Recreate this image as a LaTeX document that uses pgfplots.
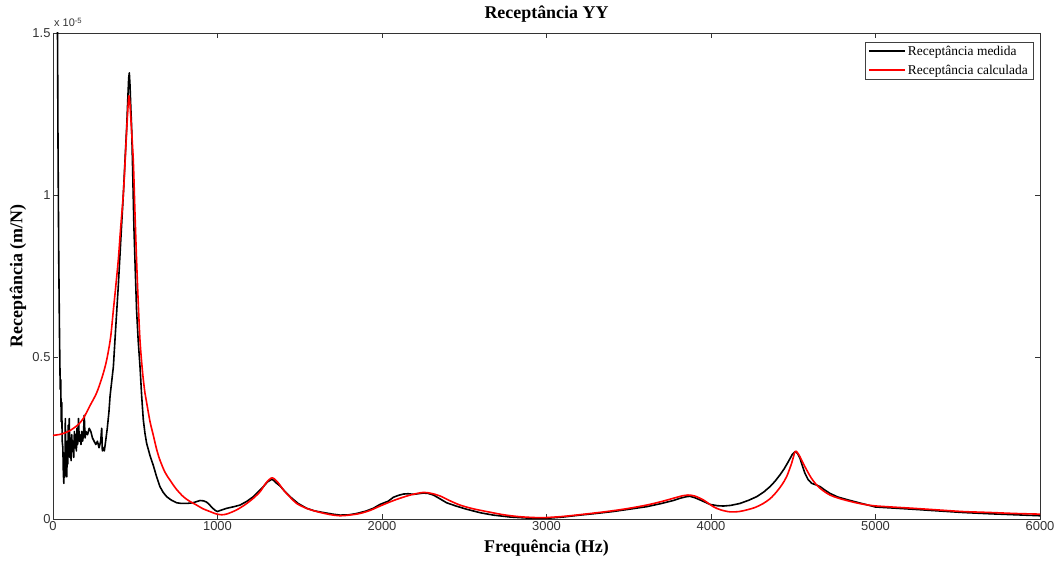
\documentclass[border=0pt]{standalone}
\usepackage{fontspec}
\setmainfont{Liberation Serif}
\setsansfont{Liberation Sans}
\usepackage{pgfplots}
\pgfplotsset{compat=1.18}

% Receptance values are given in units of 1e-5 m/N
\pgfplotstableread{
f v
25 1.80
30 1.20
35 0.80
40 0.55
44 0.40
47 0.43
50 0.30
53 0.36
56 0.24
60 0.22
63 0.14
66 0.11
69 0.20
72 0.13
75 0.31
78 0.16
81 0.19
84 0.13
87 0.24
90 0.17
93 0.29
96 0.20
99 0.31
102 0.19
106 0.25
110 0.18
114 0.26
118 0.21
122 0.24
126 0.19
130 0.27
134 0.22
138 0.26
142 0.21
146 0.28
150 0.23
155 0.31
160 0.24
165 0.26
170 0.23
175 0.27
180 0.24
185 0.26
190 0.32
195 0.25
200 0.27
210 0.26
220 0.28
230 0.27
240 0.25
250 0.24
260 0.23
270 0.24
280 0.22
290 0.24
296 0.28
300 0.21
305 0.22
312 0.21
320 0.24
330 0.28
340 0.33
347 0.38
367 0.47
380 0.58
397 0.72
412 0.86
428 1.006
440 1.13
448 1.21
455 1.30
460 1.36
464 1.377
468 1.34
473 1.27
478 1.21
485 1.06
492 0.90
500 0.77
508 0.645
518 0.55
529 0.47
539 0.38
549 0.306
559 0.265
569 0.234
590 0.195
610 0.165
630 0.13
650 0.10
670 0.082
691 0.069
720 0.058
752 0.050
780 0.048
813 0.048
850 0.050
894 0.057
915 0.056
934 0.052
950 0.045
965 0.036
985 0.027
999 0.023
1020 0.027
1056 0.033
1100 0.038
1137 0.043
1180 0.055
1218 0.069
1250 0.085
1279 0.100
1305 0.115
1329 0.122
1340 0.120
1360 0.110
1380 0.102
1410 0.085
1441 0.069
1490 0.048
1542 0.033
1590 0.025
1643 0.020
1700 0.015
1745 0.012
1800 0.013
1846 0.017
1900 0.024
1947 0.033
1988 0.045
2038 0.055
2069 0.067
2100 0.073
2130 0.077
2160 0.078
2190 0.076
2220 0.078
2251 0.080
2280 0.079
2312 0.074
2350 0.063
2393 0.050
2450 0.040
2515 0.030
2600 0.019
2677 0.012
2780 0.006
2880 0.003
3001 0.002
3100 0.006
3204 0.012
3300 0.017
3404 0.023
3500 0.030
3609 0.038
3700 0.048
3771 0.057
3812 0.064
3852 0.069
3872 0.070
3900 0.066
3933 0.059
3994 0.045
4040 0.041
4075 0.040
4120 0.042
4176 0.048
4230 0.058
4278 0.069
4320 0.083
4359 0.100
4390 0.117
4419 0.136
4445 0.155
4470 0.177
4495 0.200
4511 0.208
4525 0.203
4541 0.187
4555 0.165
4571 0.141
4590 0.122
4612 0.110
4640 0.105
4663 0.100
4690 0.090
4723 0.079
4770 0.068
4825 0.060
4900 0.050
5000 0.037
5100 0.034
5230 0.030
5380 0.025
5532 0.020
5700 0.016
5850 0.013
6000 0.010
}\medida

\pgfplotstableread{
f v
0 0.258
50 0.262
100 0.272
150 0.290
184 0.310
225 0.350
265 0.389
300 0.440
326 0.490
350 0.560
367 0.645
380 0.710
397 0.800
410 0.890
428 1.006
440 1.120
450 1.220
457 1.280
462 1.306
468 1.280
475 1.220
488 1.108
498 0.950
508 0.800
518 0.670
529 0.550
545 0.450
559 0.389
569 0.360
590 0.300
610 0.258
630 0.215
650 0.182
680 0.145
711 0.120
750 0.092
792 0.069
830 0.055
873 0.043
910 0.032
954 0.023
990 0.016
1025 0.013
1060 0.016
1116 0.028
1170 0.045
1218 0.064
1260 0.085
1290 0.108
1315 0.122
1332 0.127
1350 0.122
1375 0.108
1400 0.090
1440 0.068
1481 0.048
1540 0.033
1603 0.023
1680 0.014
1745 0.010
1800 0.012
1866 0.017
1930 0.027
1988 0.040
2050 0.053
2109 0.064
2180 0.075
2251 0.082
2300 0.079
2353 0.071
2410 0.057
2474 0.043
2550 0.032
2636 0.023
2740 0.013
2839 0.007
2960 0.004
3050 0.006
3123 0.009
3250 0.016
3366 0.023
3490 0.032
3609 0.043
3700 0.054
3771 0.064
3830 0.072
3860 0.074
3900 0.071
3953 0.059
4014 0.038
4060 0.028
4116 0.022
4170 0.023
4217 0.028
4270 0.036
4318 0.048
4360 0.063
4399 0.084
4430 0.105
4460 0.131
4490 0.172
4511 0.208
4525 0.205
4541 0.192
4560 0.172
4582 0.151
4610 0.126
4642 0.105
4680 0.088
4723 0.074
4770 0.065
4825 0.057
4900 0.048
4987 0.041
5100 0.037
5230 0.033
5380 0.028
5532 0.023
5700 0.020
5850 0.017
6000 0.015
}\calculada

\begin{document}
\begin{tikzpicture}[x=1bp,y=1bp]
\path[use as bounding box] (-53,-43) rectangle (1003,519);
\begin{axis}[
  at={(0,0)}, anchor=south west,
  scale only axis, width=987bp, height=486bp,
  xmin=0, xmax=6000, ymin=0, ymax=1.5,
  xtick={0,1000,...,6000},
  ytick={0,0.5,1,1.5},
  yticklabels={0,0.5,1,1.5},
  scaled x ticks=false,
  /pgf/number format/1000 sep={},
  /pgf/number format/assume math mode=true,
  tick pos=both, tick align=inside,
  major tick length=5bp,
  axis line style={black!80, line width=0.7bp},
  every tick/.style={black!80, line width=0.7bp},
  tick label style={font=\sffamily\fontsize{13}{13}\selectfont, text=black!80},
  xticklabel style={yshift=1bp},
  yticklabel style={xshift=1bp},
  every axis title shift=0pt,
  title={Receptância YY},
  title style={font=\rmfamily\bfseries\fontsize{18}{18}\selectfont, anchor=center, at={(axis description cs:0.5,1.0391)}},
  xlabel={Frequência (Hz)},
  xlabel style={font=\rmfamily\bfseries\fontsize{18}{18}\selectfont, anchor=center, at={(axis description cs:0.5,-0.0597)}},
  ylabel={Receptância (m/N)},
  ylabel style={font=\rmfamily\bfseries\fontsize{18}{18}\selectfont, anchor=center, at={(axis description cs:-0.0355,0.5)}},
  legend style={at={(axis description cs:0.993,0.982)}, anchor=north east,
    draw=black!75, line width=0.6bp, fill=white,
    font=\rmfamily\fontsize{13.5}{15}\selectfont,
    inner xsep=3bp, inner ysep=2bp, row sep=4bp},
  legend cell align=left,
  legend image code/.code={\draw[#1, line width=2bp] (0bp,0.5bp) -- (36bp,0.5bp);},
]
\addplot[black, line width=1.6bp, line join=round] table[x=f, y=v] {\medida};
\addlegendentry{Receptância medida}
\addplot[red, line width=1.6bp, line join=round, smooth] table[x=f, y=v] {\calculada};
\addlegendentry{Receptância calculada}
\end{axis}
\node[anchor=base west, font=\sffamily\fontsize{11}{11}\selectfont, text=black!80, inner sep=0pt] at (1,492) {x 10\textsuperscript{-5}};
\end{tikzpicture}
\end{document}
